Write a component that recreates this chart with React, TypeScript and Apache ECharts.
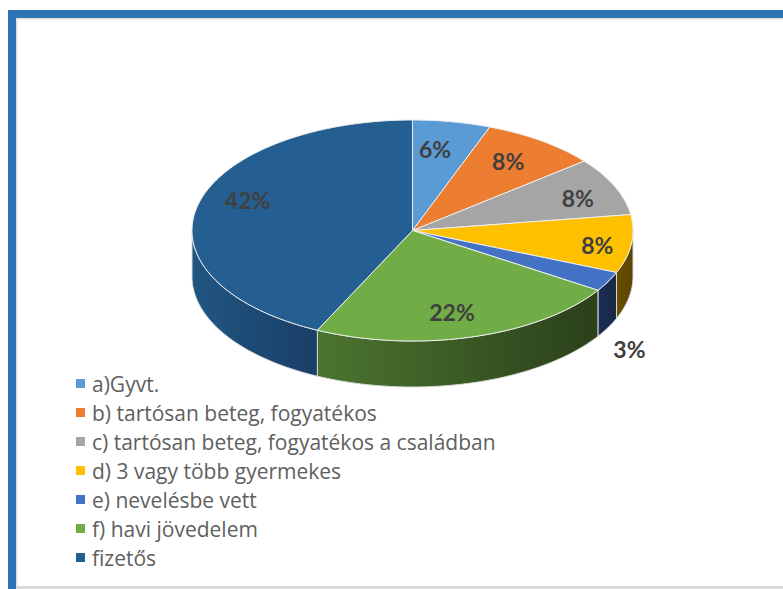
import React, { useEffect, useRef } from "react";
import * as echarts from "echarts";

const categories = [
  "a)Gyvt.",
  "b) tartósan beteg, fogyatékos",
  "c) tartósan beteg, fogyatékos a családban",
  "d) 3 vagy több gyermekes",
  "e) nevelésbe vett",
  "f) havi jövedelem",
  "fizetős",
];
// Slice sizes (percent of the disc).
const shares = [5.7, 8.5, 8.5, 8.5, 2.9, 23.0, 42.9];
// Printed labels.
const percentLabels = ["6%", "8%", "8%", "8%", "3%", "22%", "42%"];

const topColors = ["#5b9bd5", "#ed7d31", "#a5a5a5", "#ffc000", "#4472c4", "#70ad47", "#255e91"];
const wallFrom = ["#37638a", "#8f4b1d", "#646464", "#6b5000", "#1b2c54", "#4c7530", "#205682"];
const wallTo = ["#2a4c6a", "#6e3a16", "#4d4d4d", "#5a4300", "#182848", "#2a401a", "#193f66"];

// Label anchors as fractions of the disc's radii, from the disc centre.
const labelAnchors = [
  [0.102, -0.74],
  [0.434, -0.629],
  [0.75, -0.294],
  [0.838, 0.131],
  [0.984, 1.07],
  [0.179, 0.738],
  [-0.748, -0.28],
];

const CX = 412.5;
const CY = 230.5;
const RX = 220.5;
const RY = 110.5;
const DEPTH = 46;
const TEXT = "#404040";

const total = shares.reduce((a, b) => a + b, 0);
const starts = shares.map((_, i) => shares.slice(0, i).reduce((a, b) => a + b, 0));

const pt = (deg: number, dy = 0): number[] => {
  const r = (deg * Math.PI) / 180;
  return [CX + RX * Math.sin(r), CY - RY * Math.cos(r) + dy];
};

const arc = (a: number, b: number, dy = 0): number[][] => {
  const n = Math.max(2, Math.ceil(Math.abs(b - a)));
  const out: number[][] = [];
  for (let i = 0; i <= n; i++) out.push(pt(a + ((b - a) * i) / n, dy));
  return out;
};

const sliceSeries = categories.map((name, i) => ({
  type: "custom",
  name,
  coordinateSystem: "none",
  silent: true,
  itemStyle: { color: topColors[i] },
  data: [[shares[i]]],
  renderItem: (_params: any, api: any) => {
    const a0 = (starts[i] / total) * 360;
    const a1 = a0 + (api.value(0) / total) * 360;
    const children: any[] = [];
    const w0 = Math.max(a0, 90);
    const w1 = Math.min(a1, 270);
    if (w1 > w0) {
      children.push({
        type: "polygon",
        shape: { points: [...arc(w0, w1), ...arc(w1, w0, DEPTH)] },
        style: {
          fill: new echarts.graphic.LinearGradient(0, 0, 1, 0, [
            { offset: 0, color: wallFrom[i] },
            { offset: 1, color: wallTo[i] },
          ]),
          stroke: "#d9d9d9",
          lineWidth: 1,
        },
      });
    }
    children.push({
      type: "polygon",
      shape: { points: [[CX, CY], ...arc(a0, a1)] },
      style: { fill: topColors[i], stroke: "#eeeeee", lineWidth: 1 },
    });
    return { type: "group", children };
  },
}));

const labelSeries = {
  type: "custom",
  name: "labels",
  coordinateSystem: "none",
  silent: true,
  z: 5,
  data: percentLabels.map((l) => [l]),
  renderItem: (params: any) => {
    const [fx, fy] = labelAnchors[params.dataIndex];
    return {
      type: "text",
      style: {
        x: CX + fx * RX,
        y: CY + fy * RY,
        text: percentLabels[params.dataIndex],
        fill: TEXT,
        font: 'bold 23px Lato',
        align: "center",
        verticalAlign: "middle",
      },
    };
  },
};

const frame = [
  { type: "rect", shape: { x: 16, y: 18, width: 767, height: 1.5 }, style: { fill: "#e0e0e0" } },
  { type: "rect", shape: { x: 16, y: 18, width: 1.5, height: 571 }, style: { fill: "#e0e0e0" } },
  { type: "rect", shape: { x: 16, y: 586, width: 767, height: 3 }, style: { fill: "#d9d9d9" } },
  { type: "rect", shape: { x: 8, y: 10, width: 775, height: 8 }, style: { fill: "#2e75b6" } },
  { type: "rect", shape: { x: 8, y: 10, width: 8, height: 579 }, style: { fill: "#2e75b6" } },
];

export default function App() {
  const ref = useRef<HTMLDivElement>(null);
  useEffect(() => {
    const chart = echarts.init(ref.current!, null, { renderer: "svg" });
    chart.setOption({
      animation: false,
      backgroundColor: "#ffffff",
      graphic: frame.map((f) => ({ ...f, silent: true })),
      legend: {
        data: categories,
        orient: "vertical",
        left: 76,
        top: 372,
        padding: 0,
        icon: "rect",
        itemWidth: 9,
        itemHeight: 9,
        itemGap: 6,
        selectedMode: false,
        align: "left",
        textStyle: {
          color: "#606060",
          fontFamily: "Open Sans",
          fontSize: 21,
          lineHeight: 23,
          padding: [0, 0, 0, 2],
        },
      },
      series: [...sliceSeries, labelSeries],
    });
    return () => chart.dispose();
  }, []);
  return <div ref={ref} style={{ position: "fixed", left: 0, top: 0, width: 783, height: 589 }} />;
}
